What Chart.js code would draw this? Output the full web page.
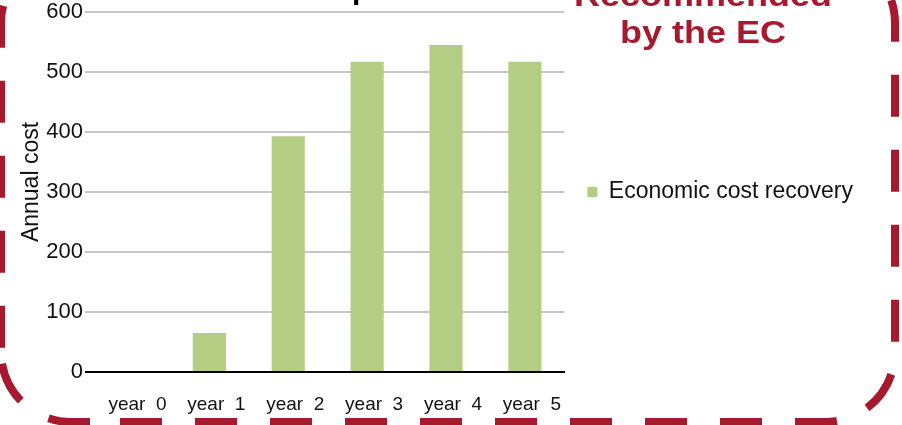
<!DOCTYPE html>
<html>
<head>
<meta charset="utf-8">
<script src="https://cdn.jsdelivr.net/npm/chart.js@4"></script>
<style>
  html, body { margin: 0; padding: 0; background: #fff; }
  #box { width: 902px; height: 425px; }
</style>
</head>
<body>
<div id="box"><canvas id="costChart"></canvas></div>
<script>
var tahun = ['year  0', 'year  1', 'year  2', 'year  3', 'year  4', 'year  5']
var biayaEkonomi = [0, 65, 393, 517, 545, 517]
var labelSeri = 'Economic cost recovery'
var judulSumbu = 'Annual cost'
var judulAtas = 'Tariff option'
var judulKanan = ['Recommended', 'by the EC']

var merah = '#a6192e'
var hijau = '#b3ce82'
var huruf = '"Liberation Sans", Arial, sans-serif'

// dashed rounded frame + the texts cut by the top edge
var bingkai = {
  id: 'bingkai',
  afterDraw: (chart) => {
    var ctx = chart.ctx
    ctx.save()

    // black title, only the descender shows
    ctx.fillStyle = '#000'
    ctx.font = 'bold 30px ' + huruf
    ctx.textBaseline = 'alphabetic'
    ctx.textAlign = 'left'
    var pre = ctx.measureText('Tariff o').width
    ctx.fillText(judulAtas, 352 - pre, -1)

    // red title (a bit wide in the original)
    ctx.fillStyle = merah
    ctx.font = 'bold 31px ' + huruf
    ctx.textAlign = 'center'
    ctx.save()
    ctx.translate(703, 0)
    ctx.scale(1.16, 1)
    ctx.fillText(judulKanan[0], 0, 6)
    ctx.fillText(judulKanan[1], 0, 43)
    ctx.restore()

    // axis title
    ctx.fillStyle = '#111'
    ctx.font = '23px ' + huruf
    ctx.textBaseline = 'middle'
    ctx.save()
    ctx.translate(32, 182)
    ctx.rotate(-Math.PI / 2)
    ctx.fillText(judulSumbu, 0, 0)
    ctx.restore()

    // frame, two strokes so the bottom-left phase fits
    var x0 = 1, x1 = 895, y0 = -47, y1 = 422, r = 70
    ctx.strokeStyle = merah
    ctx.lineWidth = 8
    ctx.setLineDash([42, 33])
    ctx.beginPath()
    ctx.moveTo(120, y1)
    ctx.lineTo(x1 - r, y1)
    ctx.arc(x1 - r, y1 - r, r, Math.PI / 2, 0, true)
    ctx.lineTo(x1, y0 + r)
    ctx.arc(x1 - r, y0 + r, r, 0, -Math.PI / 2, true)
    ctx.lineTo(x0 + r, y0)
    ctx.arc(x0 + r, y0 + r, r, -Math.PI / 2, -Math.PI, true)
    ctx.lineTo(x0, y1 - r)
    ctx.stroke()

    ctx.lineDashOffset = 45
    ctx.beginPath()
    ctx.moveTo(120, y1)
    ctx.lineTo(x0 + r, y1)
    ctx.arc(x0 + r, y1 - r, r, Math.PI / 2, Math.PI, false)
    ctx.stroke()
    ctx.restore()
  }
}

var ctx = document.getElementById('costChart').getContext('2d')
var chartBiaya = new Chart(ctx, {
  type: 'bar',
  data: {
    labels: tahun,
    datasets: [
      {
        label: labelSeri,
        backgroundColor: hijau,
        borderWidth: 0,
        data: biayaEkonomi,
        barPercentage: 0.42,
        categoryPercentage: 1
      }
    ]
  },
  options: {
    responsive: true,
    maintainAspectRatio: false,
    animation: false,
    layout: { padding: { left: 10, right: 39, top: 2, bottom: 0 } },
    plugins: {
      tooltip: { enabled: false },
      legend: {
        position: 'right',
        fullSize: false,
        maxWidth: 400,
        labels: {
          boxWidth: 10,
          boxHeight: 10,
          padding: 23,
          color: '#111',
          font: { family: huruf, size: 23 }
        }
      }
    },
    scales: {
      x: {
        grid: { display: false },
        border: { display: true, color: '#000', width: 2 },
        ticks: {
          color: '#111',
          padding: 13,
          labelOffset: 7,
          maxRotation: 0,
          font: { family: huruf, size: 19 }
        },
        afterFit: (scale) => { scale.height = 53 }
      },
      y: {
        min: 0,
        max: 600,
        ticks: {
          stepSize: 100,
          color: '#111',
          padding: 2,
          font: { family: huruf, size: 22, lineHeight: 0.9 }
        },
        grid: {
          color: (c) => c.tick && c.tick.value === 0 ? '#000' : '#c6c6c6',
          lineWidth: 2,
          tickLength: 6
        },
        border: { display: false },
        afterFit: (scale) => { scale.width = 81 }
      }
    }
  },
  plugins: [bingkai]
})
</script>
</body>
</html>
